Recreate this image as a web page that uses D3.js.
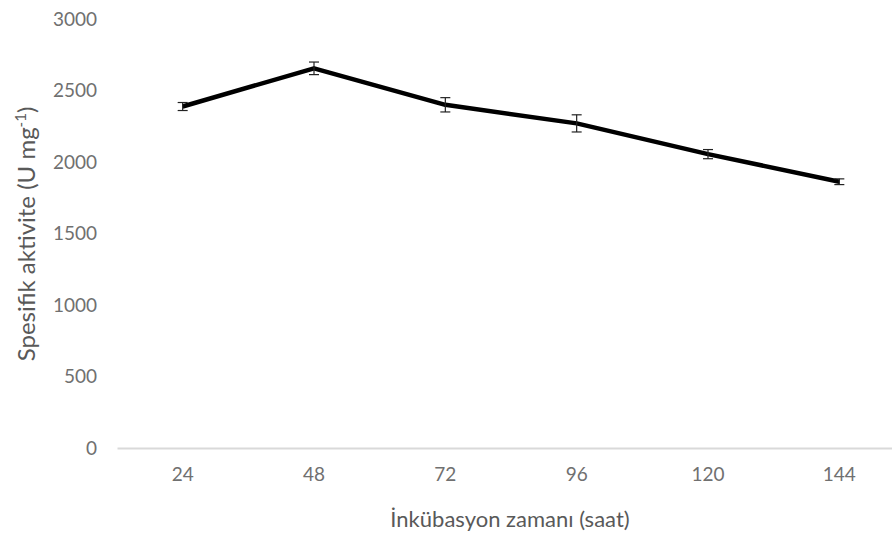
<!DOCTYPE html>
<html>
<head>
<meta charset="utf-8">
<script src="https://cdn.jsdelivr.net/npm/d3@7/dist/d3.min.js"></script>
<style>
  body { margin: 0; background: #fff; }
  svg text { font-family: Lato, "Open Sans", sans-serif; }
</style>
</head>
<body>
<svg id="chart" width="892" height="536"></svg>
<script>
// Incubation time (hours) and specific activity (U mg-1) with error
const hours = ["24", "48", "72", "96", "120", "144"];
const activity = [2388, 2655, 2400, 2270, 2055, 1862];
const errors = [28, 44, 50, 60, 32, 20];
const yTicks = [0, 500, 1000, 1500, 2000, 2500, 3000];

const svg = d3.select("#chart");

const x = d3.scaleBand().domain(hours).range([117, 905]);
const y = d3.scaleLinear().domain([0, 3000]).range([448, 19]);
const cx = d => x(d) + x.bandwidth() / 2;

// Y axis labels (no line, no ticks)
const yAxis = d3.axisLeft(y).tickValues(yTicks).tickFormat(d3.format("d")).tickSize(0).tickPadding(0);
const gy = svg.append("g").attr("transform", "translate(97,0)").call(yAxis);
gy.select(".domain").remove();
gy.selectAll("text").style("font-size", "19px").style("fill", "#707070");

// X axis baseline and labels
const xAxis = d3.axisBottom(x).tickSize(0).tickPadding(0);
const gx = svg.append("g").attr("transform", `translate(0,${y(0)})`).call(xAxis);
gx.select(".domain").attr("stroke", "#d9d9d9").attr("stroke-width", 2);
gx.selectAll("text").style("font-size", "19px").style("fill", "#707070").attr("dy", "1.75em");

// Activity line
const pts = hours.map((h, i) => ({ h, v: activity[i], e: errors[i] }));
svg.append("path")
  .datum(pts)
  .attr("fill", "none")
  .attr("stroke", "#000")
  .attr("stroke-width", 4.5)
  .attr("stroke-linejoin", "round")
  .attr("d", d3.line().x(d => cx(d.h)).y(d => y(d.v)));

// Error bars
const eb = svg.append("g").attr("stroke", "#222").attr("stroke-width", 1.2);
pts.forEach(d => {
  const xc = cx(d.h), y1 = y(d.v + d.e), y2 = y(d.v - d.e);
  eb.append("line").attr("x1", xc).attr("x2", xc).attr("y1", y1).attr("y2", y2);
  eb.append("line").attr("x1", xc - 5).attr("x2", xc + 5).attr("y1", y1).attr("y2", y1);
  eb.append("line").attr("x1", xc - 5).attr("x2", xc + 5).attr("y1", y2).attr("y2", y2);
});

// Axis titles
const yt = svg.append("text")
  .attr("transform", "translate(35,234) rotate(-90)")
  .attr("text-anchor", "middle")
  .style("font-size", "24px")
  .style("fill", "#595959");
yt.append("tspan").text("Spesifik aktivite (U mg");
yt.append("tspan").attr("dy", -9).style("font-size", "15px").text("-1");
yt.append("tspan").attr("dy", 9).text(")");

svg.append("text")
  .attr("x", 510).attr("y", 527)
  .attr("text-anchor", "middle")
  .style("font-size", "22px")
  .style("fill", "#595959")
  .text("İnkübasyon zamanı (saat)");
</script>
</body>
</html>
